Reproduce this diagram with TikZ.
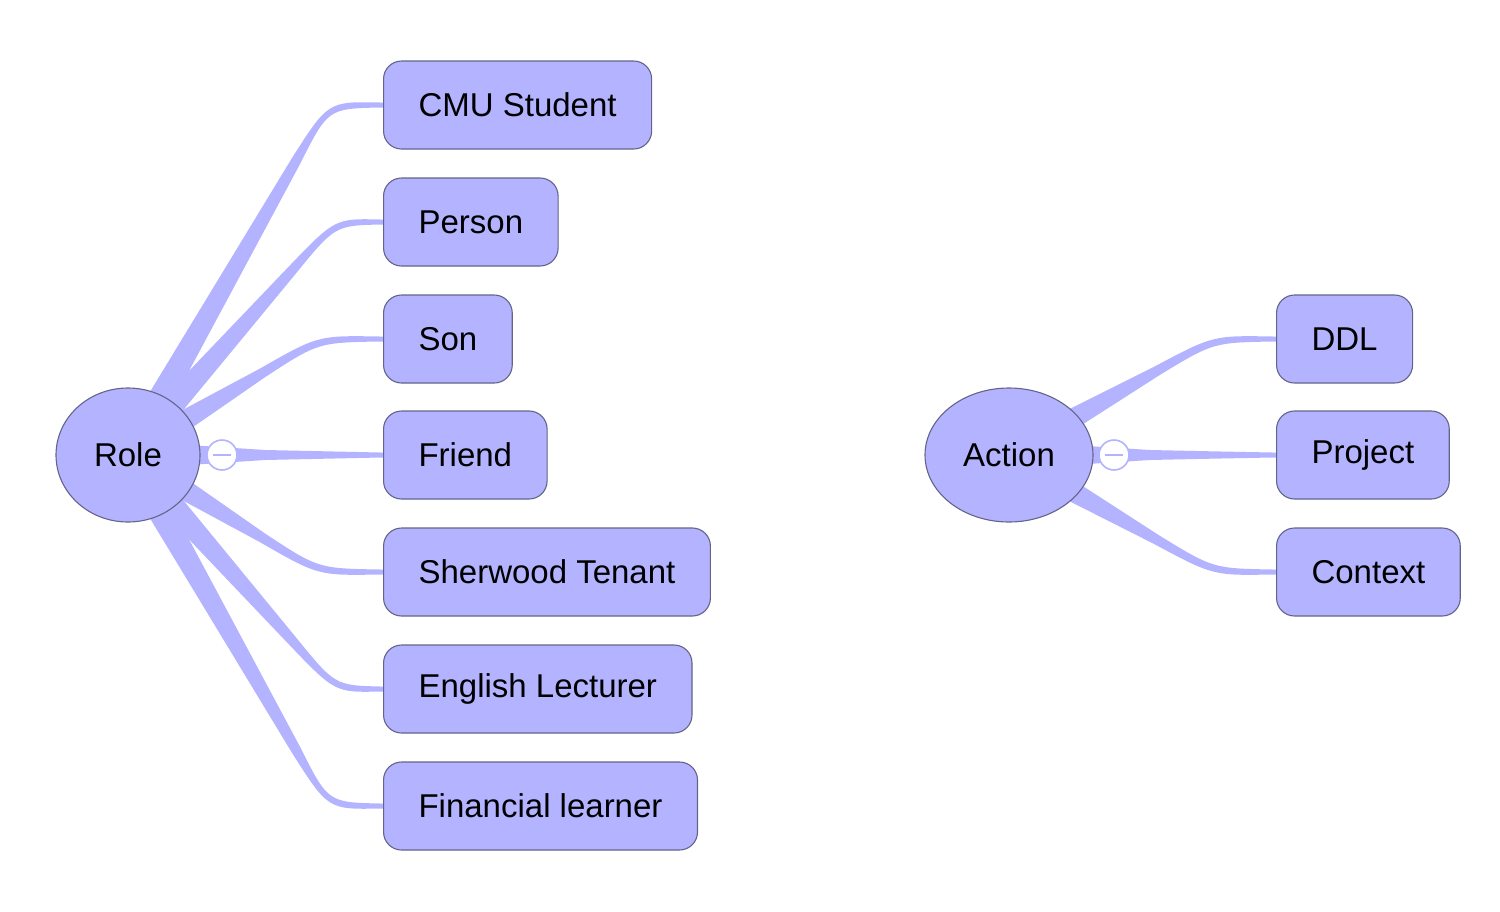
\documentclass[tikz,border=0pt]{standalone}
\usepackage{fontspec}
\setmainfont{Liberation Sans}
\usetikzlibrary{calc,shapes.geometric,backgrounds}
\definecolor{topicfill}{RGB}{179,179,255}
\definecolor{topicline}{RGB}{100,100,138}
\definecolor{branchcol}{RGB}{179,179,255}
% tapered branch: #1 root, #2 corner, #3 end
\newcommand\taperbranch[3]{%
  \coordinate (tA) at (#1);
  \coordinate (tC) at (#2);
  \coordinate (tE) at (#3);
  \coordinate (tP) at ($(tC)!65pt!(tA)$);
  \coordinate (tQ) at ($(tC)!0.95!(tE)$);
  \fill[branchcol]
    ($(tA)!14pt!90:(tC)$) -- ($(tP)!5pt!90:(tC)$)
    .. controls ($(tC)!3.6pt!90:(tE)$) .. ($(tQ)!2.5pt!90:(tE)$)
    -- ($(tE)!2.5pt!-90:(tQ)$) -- ($(tE)!2.5pt!90:(tQ)$)
    -- ($(tQ)!2.5pt!-90:(tE)$)
    .. controls ($(tC)!3.6pt!-90:(tE)$) .. ($(tP)!5pt!-90:(tC)$)
    -- ($(tA)!14pt!-90:(tC)$) -- cycle;
}
\begin{document}
\begin{tikzpicture}[x=1pt,y=-1pt,
  topicfont/.style={font=\fontsize{33}{40}\selectfont},
  topicbox/.style={topicfont, draw=topicline, fill=topicfill, line width=1.1pt,
    rounded corners=18pt, minimum height=88pt, inner xsep=35pt, anchor=west},
  central/.style={topicfont, ellipse, draw=topicline, fill=topicfill, line width=1.1pt,
    inner sep=0pt, minimum height=134pt},
  collapse/.style={circle, draw=branchcol, fill=white, line width=1.6pt,
    minimum size=30pt, inner sep=0pt,
    path picture={\draw[branchcol,line width=1.5pt]
      ([xshift=-9pt]path picture bounding box.center) --
      ([xshift=9pt]path picture bounding box.center);}}
]
\useasboundingbox (0,0) rectangle (1500,911);

% central topics
\node[central, minimum width=144pt] (role) at (128,455) {Role};
\node[central, minimum width=168pt] (action) at (1009,455) {Action};

% subtopics of Role
\node[topicbox] (cmu) at (383,105) {CMU Student};
\node[topicbox] (person) at (383,222) {Person};
\node[topicbox] (son) at (383,339) {Son};
\node[topicbox] (friend) at (383,455) {Friend};
\node[topicbox] (sherwood) at (383,572) {Sherwood Tenant};
\node[topicbox] (english) at (383,689) {English Lecturer};
\node[topicbox] (financial) at (383,806) {Financial learner};

% subtopics of Action
\node[topicbox] (ddl) at (1276,339) {DDL};
\node[topicbox] (project) at (1276,455) {Project};
\node[topicbox] (context) at (1276,572) {Context};

% corner coordinates of branches
\coordinate (cmuC) at (328,105);
\coordinate (personC) at (335,222);
\coordinate (sonC) at (318,339);
\coordinate (friendC) at (330,455);
\coordinate (sherwoodC) at (318,572);
\coordinate (englishC) at (335,689);
\coordinate (financialC) at (328,806);
\coordinate (ddlC) at (1213,339);
\coordinate (projectC) at (1215,455);
\coordinate (contextC) at (1213,572);

\begin{pgfonlayer}{background}
  \taperbranch{role.center}{cmuC}{cmu.west}
  \taperbranch{role.center}{personC}{person.west}
  \taperbranch{role.center}{sonC}{son.west}
  \taperbranch{role.center}{friendC}{friend.west}
  \taperbranch{role.center}{sherwoodC}{sherwood.west}
  \taperbranch{role.center}{englishC}{english.west}
  \taperbranch{role.center}{financialC}{financial.west}
  \taperbranch{action.center}{ddlC}{ddl.west}
  \taperbranch{action.center}{projectC}{project.west}
  \taperbranch{action.center}{contextC}{context.west}
\end{pgfonlayer}

% collapse markers
\node[collapse] (rolecol) at (222,455) {};
\node[collapse] (actioncol) at (1114,455) {};
\end{tikzpicture}
\end{document}
